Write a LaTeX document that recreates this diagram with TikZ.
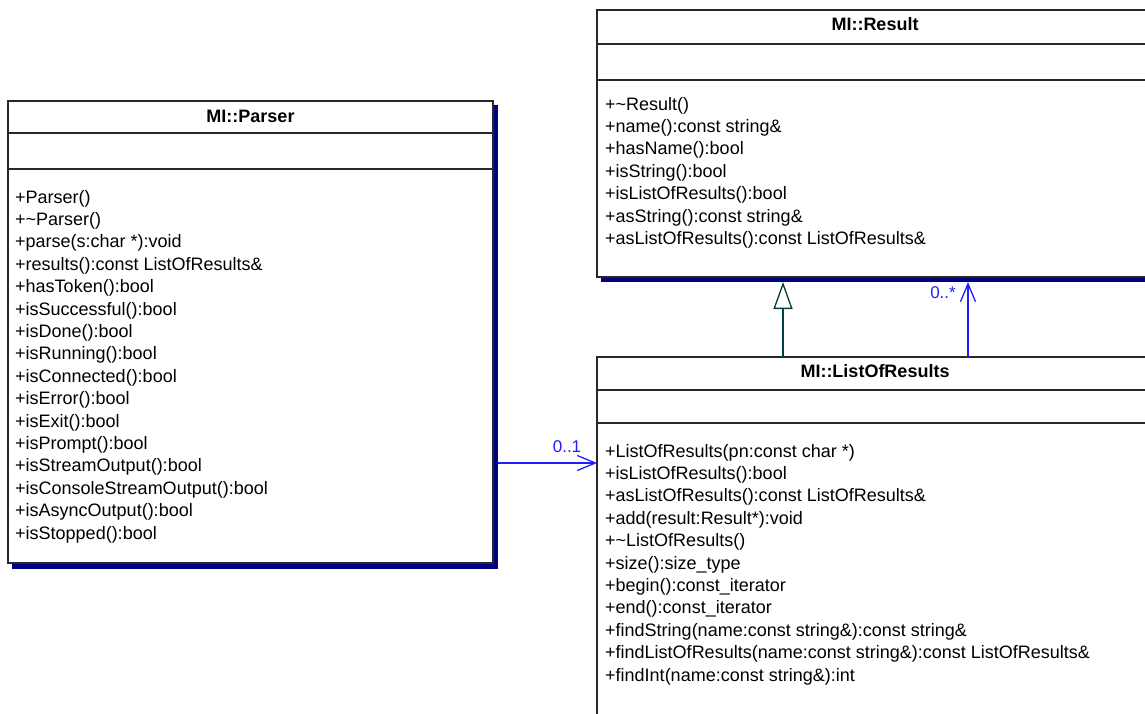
\documentclass[tikz,border=0pt]{standalone}
\usepackage{fontspec}
\setmainfont{Liberation Sans}
\usetikzlibrary{arrows.meta}
\definecolor{shadowblue}{RGB}{0,0,128}
\definecolor{assocblue}{RGB}{30,30,255}
\definecolor{gencol}{RGB}{0,64,64}
\definecolor{boxline}{RGB}{40,40,40}
\begin{document}
\begin{tikzpicture}[x=1pt,y=-1pt,
  classbox/.style={draw=boxline, line width=1.3pt, fill=white, anchor=north west, inner sep=0pt, outer sep=0pt},
  shadowbox/.style={fill=shadowblue, draw=none, anchor=north west, inner sep=0pt, outer sep=0pt},
  sepline/.style={draw=boxline, line width=1.3pt},
  member/.style={anchor=base west, inner sep=0pt, font=\fontsize{18}{22}\selectfont},
  titletext/.style={anchor=base, inner sep=0pt, font=\fontsize{18}{22}\selectfont\bfseries},
  assoc/.style={draw=assocblue, line width=1.3pt, -{Straight Barb[length=18pt,width=15pt]}},
  gener/.style={draw=gencol, line width=1.3pt, -{Triangle[open,length=27pt,width=19pt,fill=white]}},
  mult/.style={text=assocblue, inner sep=0pt, font=\fontsize{17}{20}\selectfont}]
\useasboundingbox (0,0) rectangle (1145,713);
\clip (0,0) rectangle (1145,713);
\fill[white] (0,0) rectangle (1145,713);

% ---- MI::Parser
\node[shadowbox, minimum width=486pt, minimum height=464pt] (pshadow) at (12,105) {};
\node[classbox, minimum width=485pt, minimum height=462pt] (parser) at (8,101) {};
\draw[sepline] (parser.west |- 0,133) -- (parser.east |- 0,133);
\draw[sepline] (parser.west |- 0,169) -- (parser.east |- 0,169);
\node[titletext] (ptitle) at (250.5,122) {MI::Parser};
\foreach \t [count=\i from 0] in {
  +Parser(),
  +\textasciitilde Parser(),
  +parse(s:char *):void,
  +results():const ListOfResults\&,
  +hasToken():bool,
  +isSuccessful():bool,
  +isDone():bool,
  +isRunning():bool,
  +isConnected():bool,
  +isError():bool,
  +isExit():bool,
  +isPrompt():bool,
  +isStreamOutput():bool,
  +isConsoleStreamOutput():bool,
  +isAsyncOutput():bool,
  +isStopped():bool}
  \node[member] (pm\i) at (15,203+22.4*\i) {\t};

% ---- MI::Result
\node[shadowbox, minimum width=556pt, minimum height=268pt] (rshadow) at (601,14) {};
\node[classbox, minimum width=556pt, minimum height=267pt] (result) at (597,10) {};
\draw[sepline] (result.west |- 0,44) -- (result.east |- 0,44);
\draw[sepline] (result.west |- 0,80) -- (result.east |- 0,80);
\node[titletext] (rtitle) at (875,30) {MI::Result};
\foreach \t [count=\i from 0] in {
  +\textasciitilde Result(),
  +name():const string\&,
  +hasName():bool,
  +isString():bool,
  +isListOfResults():bool,
  +asString():const string\&,
  +asListOfResults():const ListOfResults\&}
  \node[member] (rm\i) at (605,110+22.4*\i) {\t};

% ---- MI::ListOfResults
\node[classbox, minimum width=556pt, minimum height=420pt] (lor) at (597,357) {};
\draw[sepline] (lor.west |- 0,390) -- (lor.east |- 0,390);
\draw[sepline] (lor.west |- 0,423) -- (lor.east |- 0,423);
\node[titletext] (ltitle) at (875,377) {MI::ListOfResults};
\foreach \t [count=\i from 0] in {
  +ListOfResults(pn:const char *),
  +isListOfResults():bool,
  +asListOfResults():const ListOfResults\&,
  +add(result:Result*):void,
  +\textasciitilde ListOfResults(),
  +size():size\_type,
  +begin():const\_iterator,
  +end():const\_iterator,
  +findString(name:const string\&):const string\&,
  +findListOfResults(name:const string\&):const ListOfResults\&,
  +findInt(name:const string\&):int}
  \node[member] (lm\i) at (605,457+22.4*\i) {\t};

% ---- connectors
\coordinate (ay) at (0,463);
\coordinate (gx) at (783,0);
\coordinate (ax) at (968,0);
\draw[assoc] (pshadow.east |- ay) -- (lor.west |- ay);
\node[mult] (m1) at (567,447) {0..1};
\draw[gener] (lor.north -| gx) -- (rshadow.south -| gx);
\draw[assoc] (lor.north -| ax) -- (rshadow.south -| ax);
\node[mult] (m2) at (943,293) {0..*};
\end{tikzpicture}
\end{document}
